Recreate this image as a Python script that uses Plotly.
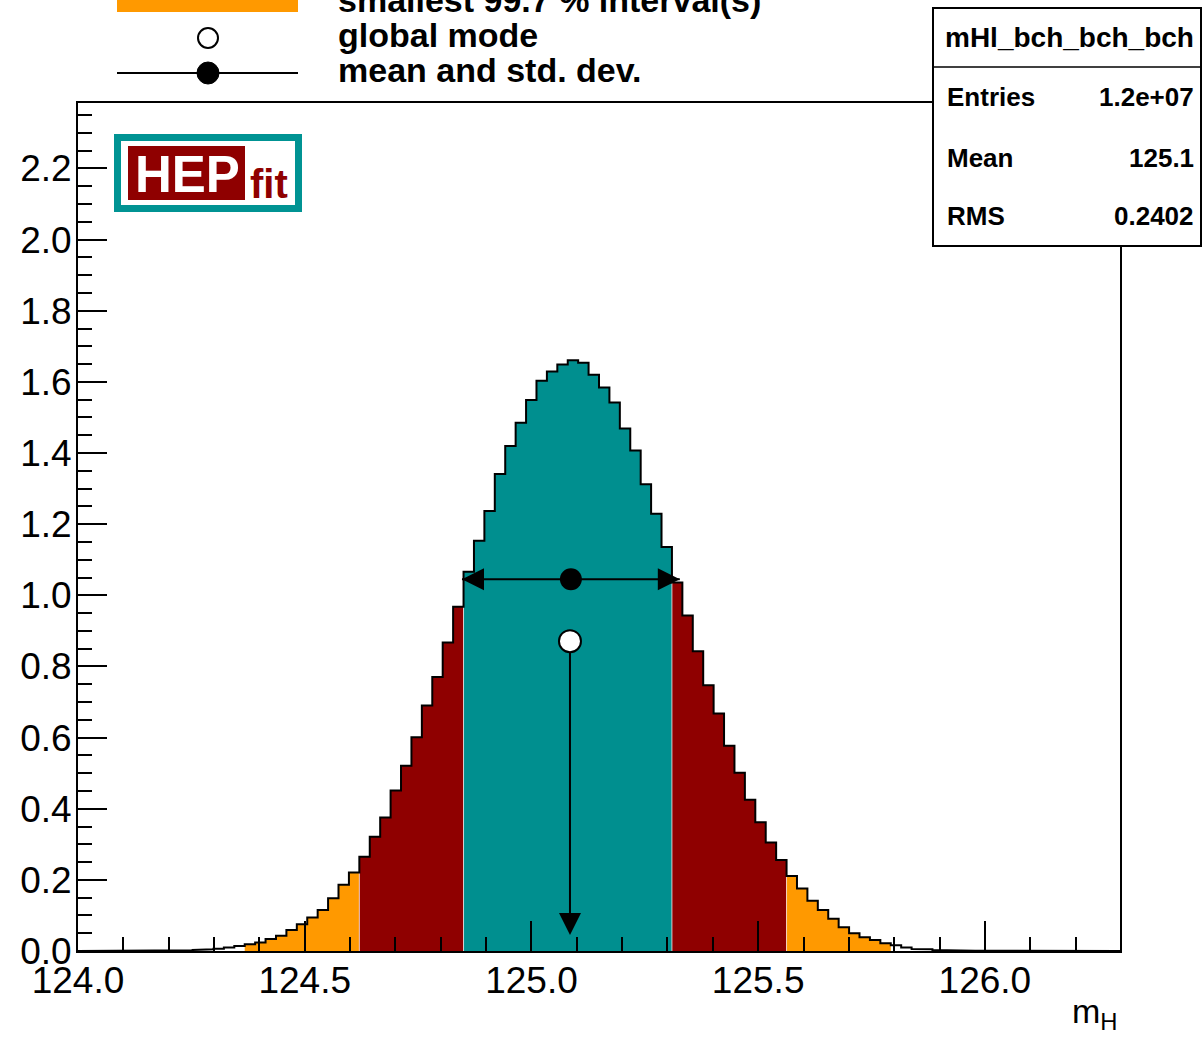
import plotly.graph_objects as go

# ---------------- data ----------------
X_MIN, X_MAX = 124.0, 126.298
Y_MAX = 2.384
N_BINS = 100
bin_values = [
    0.0, 0.0, 0.0002, 0.0003, 0.0004, 0.0006, 0.0008, 0.0010, 0.0012, 0.0015,
    0.002, 0.003, 0.0047, 0.0065, 0.010, 0.014, 0.019, 0.024, 0.034, 0.043,
    0.059, 0.075, 0.094, 0.115, 0.148, 0.186, 0.221, 0.265, 0.321, 0.375,
    0.451, 0.521, 0.601, 0.690, 0.770, 0.867, 0.968, 1.066, 1.153, 1.237,
    1.341, 1.420, 1.485, 1.549, 1.603, 1.629, 1.649, 1.661, 1.654, 1.620,
    1.584, 1.542, 1.469, 1.407, 1.312, 1.229, 1.136, 1.036, 0.943, 0.843,
    0.747, 0.668, 0.577, 0.501, 0.425, 0.362, 0.305, 0.256, 0.211, 0.176,
    0.141, 0.115, 0.091, 0.067, 0.050, 0.039, 0.031, 0.022, 0.016, 0.010,
    0.0056, 0.0047, 0.003, 0.002, 0.0015, 0.001, 0.0008, 0.0006, 0.0004, 0.0003,
    0.0002, 0.0001, 0.0, 0.0, 0.0, 0.0, 0.0, 0.0, 0.0, 0.0,
]
interval_68 = (124.850, 125.310)
interval_95 = (124.620, 125.563)
interval_997 = (124.368, 125.792)
mean_val = 125.087
std_val = 0.2402
mode_val = 125.085
mean_marker_y = 1.045
mode_marker_y = 0.871
mode_arrow_end = 0.045

hist_name = "mHl_bch_bch_bch"
stat_labels = ["Entries", "Mean", "RMS"]
stat_values = ["1.2e+07", "125.1", "0.2402"]
legend_labels = ["smallest 99.7 % interval(s)", "global mode", "mean and std. dev."]
x_title = "m<sub>H</sub>"

# ---------------- style ----------------
W, H = 1203, 1037
L, R, T, B = 78, 1120, 103, 951
PW, PH = R - L, B - T
FONT = "Liberation Sans, Arial, Helvetica, sans-serif"
TEAL = "#008f8f"
DARKRED = "#8f0000"
ORANGE = "#ff9900"

def pxx(px):
    return (px - L) / PW

def pxy(py):
    return (B - py) / PH

DX = (X_MAX - X_MIN) / PW   # data per pixel
DY = Y_MAX / PH

bw = (X_MAX - X_MIN) / N_BINS
edges = [X_MIN + i * bw for i in range(N_BINS + 1)]

def region_color(c):
    if interval_68[0] <= c <= interval_68[1]:
        return TEAL
    if interval_95[0] <= c <= interval_95[1]:
        return DARKRED
    if interval_997[0] <= c <= interval_997[1]:
        return ORANGE
    return None

colors = [region_color(edges[i] + bw / 2) for i in range(N_BINS)]

fig = go.Figure()

# filled regions
i = 0
while i < N_BINS:
    c = colors[i]
    j = i
    while j + 1 < N_BINS and colors[j + 1] == c:
        j += 1
    if c is not None:
        xs = [edges[i]]
        ys = [0]
        for k in range(i, j + 1):
            xs += [edges[k], edges[k + 1]]
            ys += [bin_values[k], bin_values[k]]
        xs.append(edges[j + 1])
        ys.append(0)
        fig.add_trace(go.Scatter(x=xs, y=ys, fill="toself", fillcolor=c, mode="lines",
                                 line=dict(width=0, color=c), hoverinfo="skip", showlegend=False))
    i = j + 1

# pale seams at region boundaries
for k in range(1, N_BINS):
    if colors[k] != colors[k - 1] and colors[k] is not None and colors[k - 1] is not None:
        h = min(bin_values[k], bin_values[k - 1])
        fig.add_trace(go.Scatter(x=[edges[k], edges[k]], y=[0, h], mode="lines",
                                 line=dict(width=1, color="rgba(255,235,235,0.75)"),
                                 hoverinfo="skip", showlegend=False))

# outline
ox = [edges[0]]
oy = [0]
for k in range(N_BINS):
    ox += [edges[k], edges[k + 1]]
    oy += [bin_values[k], bin_values[k]]
ox.append(edges[-1])
oy.append(0)
fig.add_trace(go.Scatter(x=ox, y=oy, mode="lines", line=dict(color="black", width=2),
                         hoverinfo="skip", showlegend=False))

# mean +- std
fig.add_trace(go.Scatter(x=[mean_val - std_val, mean_val + std_val], y=[mean_marker_y, mean_marker_y],
                         mode="lines", line=dict(color="black", width=2), showlegend=False, hoverinfo="skip"))
fig.add_trace(go.Scatter(x=[mean_val], y=[mean_marker_y], mode="markers",
                         marker=dict(symbol="circle", size=22, color="black"), showlegend=False, hoverinfo="skip"))
# mode
head = 22
fig.add_trace(go.Scatter(x=[mode_val, mode_val], y=[mode_marker_y, mode_arrow_end + head * DY],
                         mode="lines", line=dict(color="black", width=2), showlegend=False, hoverinfo="skip"))
fig.add_trace(go.Scatter(x=[mode_val], y=[mode_marker_y], mode="markers",
                         marker=dict(symbol="circle", size=22, color="white", line=dict(color="black", width=2)),
                         showlegend=False, hoverinfo="skip"))

shapes = []
# arrowheads
lt = mean_val - std_val
rt = mean_val + std_val
hy = 11 * DY
hx = 11 * DX
shapes.append(dict(type="path", xref="x", yref="y", fillcolor="black", line=dict(width=0),
                   path=f"M {lt} {mean_marker_y} L {lt + head*DX} {mean_marker_y + hy} L {lt + head*DX} {mean_marker_y - hy} Z"))
shapes.append(dict(type="path", xref="x", yref="y", fillcolor="black", line=dict(width=0),
                   path=f"M {rt} {mean_marker_y} L {rt - head*DX} {mean_marker_y + hy} L {rt - head*DX} {mean_marker_y - hy} Z"))
shapes.append(dict(type="path", xref="x", yref="y", fillcolor="black", line=dict(width=0),
                   path=f"M {mode_val} {mode_arrow_end} L {mode_val - hx} {mode_arrow_end + head*DY} L {mode_val + hx} {mode_arrow_end + head*DY} Z"))

# stats box
shapes.append(dict(type="rect", xref="paper", yref="paper", x0=pxx(933), x1=pxx(1201), y0=pxy(246), y1=pxy(8),
                   fillcolor="white", line=dict(color="black", width=2)))
shapes.append(dict(type="line", xref="paper", yref="paper", x0=pxx(933), x1=pxx(1201), y0=pxy(67), y1=pxy(67),
                   line=dict(color="black", width=1.5)))

# HEPfit logo
shapes.append(dict(type="rect", xref="paper", yref="paper", x0=pxx(117.5), x1=pxx(298.5), y0=pxy(208.5), y1=pxy(137.5),
                   fillcolor="white", line=dict(color="#009393", width=7)))
shapes.append(dict(type="rect", xref="paper", yref="paper", x0=pxx(128), x1=pxx(245), y0=pxy(200), y1=pxy(146),
                   fillcolor=DARKRED, line=dict(width=0)))

# legend symbols
shapes.append(dict(type="rect", xref="paper", yref="paper", x0=pxx(117), x1=pxx(298), y0=pxy(12), y1=pxy(-8),
                   fillcolor=ORANGE, line=dict(width=0)))
shapes.append(dict(type="circle", xref="paper", yref="paper", x0=pxx(198), x1=pxx(218), y0=pxy(48), y1=pxy(28),
                   fillcolor="white", line=dict(color="black", width=2)))
shapes.append(dict(type="line", xref="paper", yref="paper", x0=pxx(117), x1=pxx(298), y0=pxy(73), y1=pxy(73),
                   line=dict(color="black", width=2)))
shapes.append(dict(type="circle", xref="paper", yref="paper", x0=pxx(197), x1=pxx(219), y0=pxy(84), y1=pxy(62),
                   fillcolor="black", line=dict(color="black", width=1)))

annotations = []
leg_y = [0, 35, 70]
for lab, yy in zip(legend_labels, leg_y):
    annotations.append(dict(text=f"<b>{lab}</b>", xref="paper", yref="paper", x=pxx(336), y=pxy(yy),
                            xanchor="left", yanchor="middle", showarrow=False,
                            font=dict(family=FONT, size=34, color="black")))

annotations.append(dict(text=f"<b>{hist_name}</b>", xref="paper", yref="paper", x=pxx(1069), y=pxy(37),
                        xanchor="center", yanchor="middle", showarrow=False,
                        font=dict(family=FONT, size=28, color="black")))
for lab, val, yy in zip(stat_labels, stat_values, [97, 158, 216]):
    annotations.append(dict(text=f"<b>{lab}</b>", xref="paper", yref="paper", x=pxx(945), y=pxy(yy),
                            xanchor="left", yanchor="middle", showarrow=False,
                            font=dict(family=FONT, size=26, color="black")))
    annotations.append(dict(text=f"<b>{val}</b>", xref="paper", yref="paper", x=pxx(1196), y=pxy(yy),
                            xanchor="right", yanchor="middle", showarrow=False,
                            font=dict(family=FONT, size=26, color="black")))

annotations.append(dict(text="<b>HEP</b>", xref="paper", yref="paper", x=pxx(187), y=pxy(174),
                        xanchor="center", yanchor="middle", showarrow=False,
                        font=dict(family=FONT, size=51, color="white")))
annotations.append(dict(text="<b>fit</b>", xref="paper", yref="paper", x=pxx(248), y=pxy(184),
                        xanchor="left", yanchor="middle", showarrow=False,
                        font=dict(family=FONT, size=40, color=DARKRED)))

annotations.append(dict(text=x_title, xref="paper", yref="paper", x=1.0, y=pxy(1013),
                        xanchor="right", yanchor="middle", showarrow=False,
                        font=dict(family=FONT, size=34, color="black")))

fig.update_layout(
    width=W, height=H,
    margin=dict(l=L, r=W - R, t=T, b=H - B, pad=0),
    paper_bgcolor="white", plot_bgcolor="white",
    shapes=shapes, annotations=annotations,
    showlegend=False,
    font=dict(family=FONT, color="black"),
)
fig.update_xaxes(range=[X_MIN, X_MAX], showgrid=False, zeroline=False,
                 showline=True, linecolor="black", linewidth=2, mirror=True,
                 ticks="inside", ticklen=30, tickwidth=2, tickcolor="black",
                 tick0=124.0, dtick=0.5, tickformat=".1f", ticklabelstandoff=-4,
                 tickfont=dict(family=FONT, size=37, color="black"),
                 minor=dict(ticks="inside", ticklen=14, tickwidth=2, tickcolor="black", dtick=0.1, tick0=124.0))
fig.update_yaxes(range=[0, Y_MAX], showgrid=False, zeroline=False,
                 showline=True, linecolor="black", linewidth=2, mirror=True,
                 ticks="inside", ticklen=29, tickwidth=2, tickcolor="black",
                 tick0=0, dtick=0.2, tickformat=".1f", ticklabelstandoff=-3,
                 tickfont=dict(family=FONT, size=37, color="black"),
                 minor=dict(ticks="inside", ticklen=14, tickwidth=2, tickcolor="black", dtick=0.05, tick0=0))

fig.write_html("out.html")
